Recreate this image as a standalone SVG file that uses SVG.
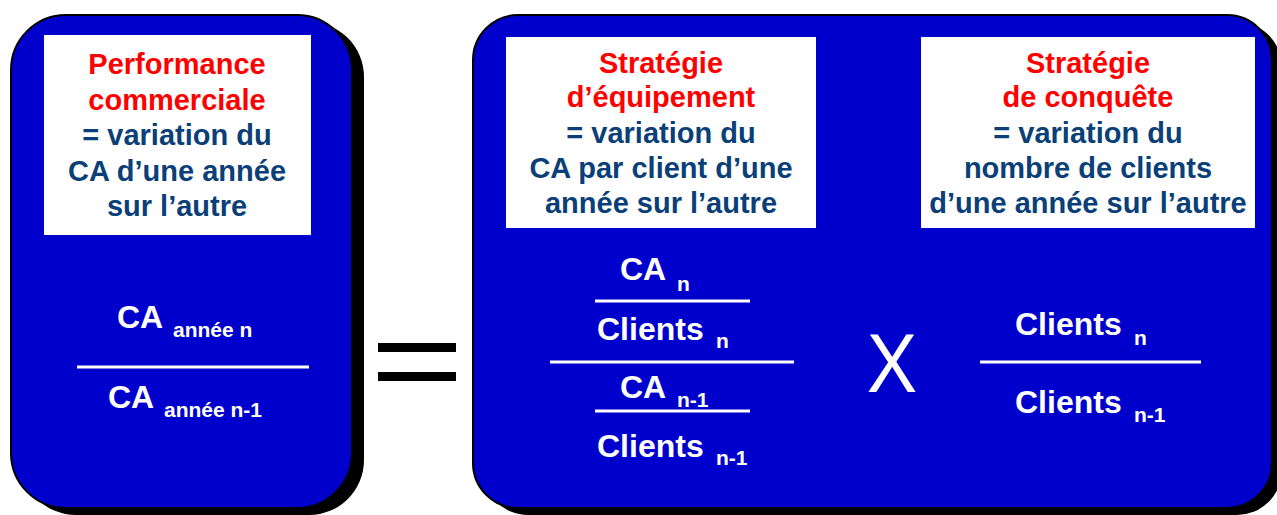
<svg xmlns="http://www.w3.org/2000/svg" width="1277" height="515" viewBox="0 0 1277 515">
<style>
.box{fill:#0000CC;stroke:#000;stroke-width:2}
.shadow{fill:#000}
.card{fill:#fff}
.t{font-family:"Liberation Sans",Arial,sans-serif;font-weight:bold;font-size:29px;text-anchor:middle}
.red{fill:#FF0000}
.navy{fill:#0B3F78}
.f{font-family:"Liberation Sans",Arial,sans-serif;font-weight:bold;fill:#fff;font-size:32px}
.s{font-size:21px}
.rule{stroke:#fff;stroke-width:3}
</style>
<rect width="1277" height="515" fill="#fff"/>
<g id="left">
<rect class="shadow" x="21" y="22" width="343" height="493" rx="55"/>
<rect class="box" x="11" y="15" width="341" height="493" rx="55"/>
<rect class="card" x="44" y="35" width="267" height="200"/>
<text class="t red" x="177" y="74">Performance</text>
<text class="t red" x="177" y="110">commerciale</text>
<text class="t navy" x="177" y="145">= variation du</text>
<text class="t navy" x="177" y="181">CA d’une année</text>
<text class="t navy" x="177" y="216">sur l’autre</text>
<text class="f" x="117" y="328">CA</text><text class="f s" x="173" y="337">année n</text>
<line class="rule" x1="77" y1="367" x2="309" y2="367"/>
<text class="f" x="108" y="408">CA</text><text class="f s" x="164" y="417">année n-1</text>
</g>
<g id="equals">
<rect x="378" y="343" width="78" height="9" fill="#000"/>
<rect x="378" y="372" width="78" height="9" fill="#000"/>
</g>
<g id="right">
<rect class="shadow" x="483" y="22" width="799" height="493" rx="45"/>
<rect class="box" x="473" y="15" width="799" height="493" rx="45"/>
</g>
<g id="equipement">
<rect class="card" x="506" y="37" width="310" height="191"/>
<text class="t red" x="661" y="73">Stratégie</text>
<text class="t red" x="661" y="107">d’équipement</text>
<text class="t navy" x="661" y="143">= variation du</text>
<text class="t navy" x="661" y="178">CA par client d’une</text>
<text class="t navy" x="661" y="213">année sur l’autre</text>
<text class="f" x="620" y="280">CA</text><text class="f s" x="677" y="291">n</text>
<line class="rule" x1="595" y1="301" x2="750" y2="301"/>
<text class="f" x="597" y="340">Clients</text><text class="f s" x="716" y="348">n</text>
<line class="rule" x1="550" y1="362" x2="794" y2="362"/>
<text class="f" x="620" y="398">CA</text><text class="f s" x="677" y="407">n-1</text>
<line class="rule" x1="595" y1="411" x2="750" y2="411"/>
<text class="f" x="597" y="457">Clients</text><text class="f s" x="716" y="465">n-1</text>
</g>
<g id="times">
<text x="892" y="392" font-family="Liberation Sans, Arial, sans-serif" font-size="84" fill="#fff" text-anchor="middle" transform="translate(892 0) scale(0.9 1) translate(-892 0)">X</text>
</g>
<g id="conquete">
<rect class="card" x="921" y="37" width="334" height="191"/>
<text class="t red" x="1088" y="73">Stratégie</text>
<text class="t red" x="1088" y="107">de conquête</text>
<text class="t navy" x="1088" y="143">= variation du</text>
<text class="t navy" x="1088" y="178">nombre de clients</text>
<text class="t navy" x="1088" y="213">d’une année sur l’autre</text>
<text class="f" x="1015" y="335">Clients</text><text class="f s" x="1134" y="345">n</text>
<line class="rule" x1="980" y1="362" x2="1201" y2="362"/>
<text class="f" x="1015" y="413">Clients</text><text class="f s" x="1134" y="422">n-1</text>
</g>
<g id="connectors"/>
</svg>
